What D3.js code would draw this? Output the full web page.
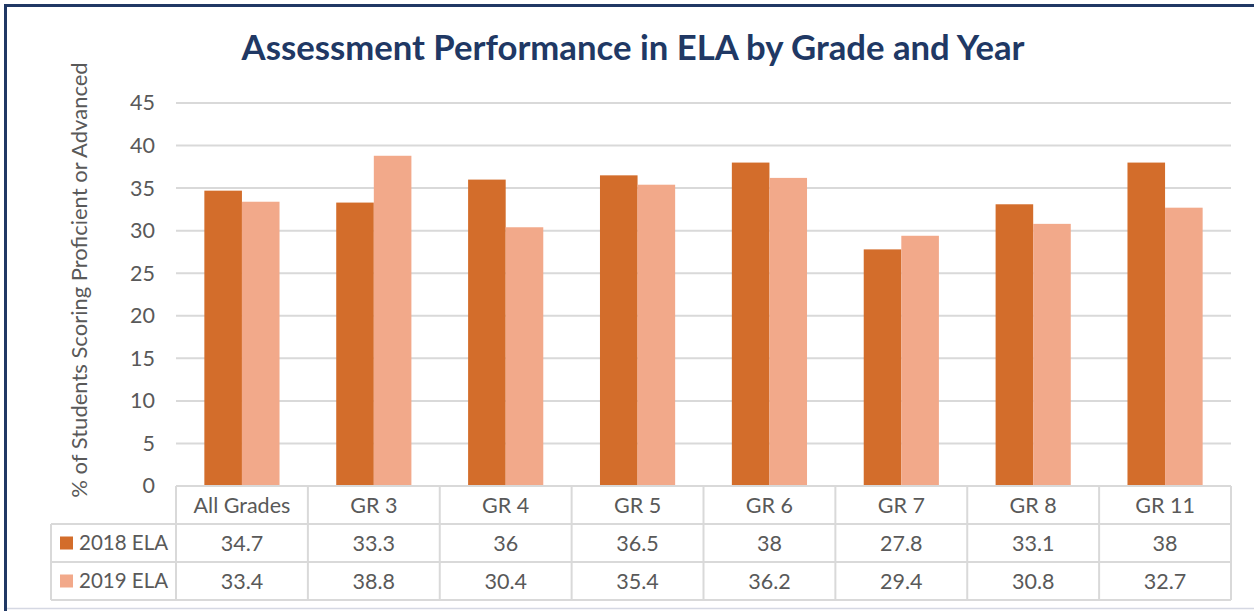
<!DOCTYPE html>
<html>
<head>
<meta charset="utf-8">
<script src="https://cdn.jsdelivr.net/npm/d3@7"></script>
<style>
  html, body { margin: 0; padding: 0; background: #fff; }
  svg { display: block; }
  text { font-family: Lato, "Open Sans", sans-serif; }
</style>
</head>
<body>
<svg id="chart" width="1254" height="611"></svg>
<script>
// Categories and series
const categories = ["All Grades", "GR 3", "GR 4", "GR 5", "GR 6", "GR 7", "GR 8", "GR 11"];
const seriesNames = ["2018 ELA", "2019 ELA"];
const values2018 = [34.7, 33.3, 36, 36.5, 38, 27.8, 33.1, 38];
const values2019 = [33.4, 38.8, 30.4, 35.4, 36.2, 29.4, 30.8, 32.7];
const yTicks = [0, 5, 10, 15, 20, 25, 30, 35, 40, 45];
const colors = ["#D36D2B", "#F2A98A"];

const series = [values2018, values2019];

const W = 1254, H = 611;
const plot = { left: 176, right: 1231, top: 103, bottom: 486 };
const rowH = 38;
const legendLeft = 51;
const labelSize = 21.5;

const svg = d3.select("#chart");

// Frame
svg.append("rect").attr("x", 0).attr("y", 0).attr("width", W).attr("height", H).attr("fill", "#fff");
svg.append("line").attr("x1", 4).attr("x2", W).attr("y1", 5.5).attr("y2", 5.5)
  .attr("stroke", "#203864").attr("stroke-width", 3);
svg.append("line").attr("x1", 5.5).attr("x2", 5.5).attr("y1", 4).attr("y2", H)
  .attr("stroke", "#203864").attr("stroke-width", 3);
svg.append("line").attr("x1", 7).attr("x2", W).attr("y1", 608.5).attr("y2", 608.5)
  .attr("stroke", "#D5D8E3").attr("stroke-width", 1.5);

// Title
svg.append("text")
  .attr("x", 633).attr("y", 60)
  .attr("text-anchor", "middle")
  .attr("font-size", 34.7).attr("font-weight", 700)
  .attr("fill", "#203864")
  .text("Assessment Performance in ELA by Grade and Year");

// Scales
const x = d3.scaleBand().domain(categories).range([plot.left, plot.right]);
const y = d3.scaleLinear().domain([0, 45]).range([plot.bottom, plot.top]);
const barW = x.bandwidth() * 0.285;
const sub = d3.scaleBand().domain(seriesNames).range([0, barW * 2]);

// Gridlines
svg.append("g").selectAll("line").data(yTicks.filter(t => t > 0)).join("line")
  .attr("x1", plot.left).attr("x2", plot.right)
  .attr("y1", d => y(d)).attr("y2", d => y(d))
  .attr("stroke", "#D9D9D9").attr("stroke-width", 2);

// Y axis tick labels
const yAxis = d3.axisLeft(y).tickValues(yTicks).tickSize(0).tickPadding(0);
const gy = svg.append("g").attr("transform", `translate(155,0)`).call(yAxis);
gy.select(".domain").remove();
gy.selectAll("text").attr("font-size", labelSize).attr("fill", "#595959")
  .attr("font-family", "Lato, 'Open Sans', sans-serif");

// Y axis title
svg.append("text")
  .attr("transform", `translate(87,280) rotate(-90)`)
  .attr("text-anchor", "middle")
  .attr("font-size", 22).attr("fill", "#595959")
  .text("% of Students Scoring Proficient or Advanced");

// Bars
const groups = svg.append("g").selectAll("g").data(categories).join("g")
  .attr("transform", d => `translate(${x(d) + (x.bandwidth() - barW * 2) / 2},0)`);
groups.selectAll("rect")
  .data((d, i) => seriesNames.map((s, k) => ({ s, v: series[k][i], k })))
  .join("rect")
  .attr("x", d => sub(d.s))
  .attr("width", sub.bandwidth())
  .attr("y", d => y(d.v))
  .attr("height", d => y(0) - y(d.v))
  .attr("fill", d => colors[d.k]);

// Data table
const tbl = svg.append("g");
const gridColor = "#D9D9D9";
const tTop = plot.bottom, r1 = tTop + rowH, r2 = r1 + rowH, r3 = r2 + rowH;

// horizontal lines
tbl.append("line").attr("x1", plot.left).attr("x2", plot.right).attr("y1", tTop).attr("y2", tTop)
  .attr("stroke", gridColor).attr("stroke-width", 2);
[r1, r2, r3].forEach(yy => tbl.append("line")
  .attr("x1", legendLeft).attr("x2", plot.right).attr("y1", yy).attr("y2", yy)
  .attr("stroke", gridColor).attr("stroke-width", 2));
// vertical lines
const vx = categories.map(c => x(c)).concat([plot.right]);
tbl.selectAll("line.v").data(vx).join("line").attr("class", "v")
  .attr("x1", d => d).attr("x2", d => d).attr("y1", tTop).attr("y2", r3)
  .attr("stroke", gridColor).attr("stroke-width", 2);
tbl.append("line").attr("x1", legendLeft).attr("x2", legendLeft).attr("y1", r1).attr("y2", r3)
  .attr("stroke", gridColor).attr("stroke-width", 2);

// header row: category names
tbl.selectAll("text.cat").data(categories).join("text").attr("class", "cat")
  .attr("x", d => x(d) + x.bandwidth() / 2).attr("y", tTop + rowH / 2)
  .attr("dy", "0.36em").attr("text-anchor", "middle")
  .attr("font-size", labelSize).attr("fill", "#595959")
  .text(d => d);

// value rows with legend keys
seriesNames.forEach((name, k) => {
  const rowY = r1 + k * rowH;
  tbl.append("rect").attr("x", 60).attr("y", rowY + rowH / 2 - 6.5)
    .attr("width", 13).attr("height", 13).attr("fill", colors[k]);
  tbl.append("text").attr("x", 79).attr("y", rowY + rowH / 2).attr("dy", "0.36em")
    .attr("font-size", 20.5).attr("fill", "#595959").text(name);
  tbl.selectAll(`text.val${k}`).data(series[k]).join("text").attr("class", `val${k}`)
    .attr("x", (d, i) => x(categories[i]) + x.bandwidth() / 2).attr("y", rowY + rowH / 2)
    .attr("dy", "0.36em").attr("text-anchor", "middle")
    .attr("font-size", labelSize).attr("fill", "#595959")
    .text(d => d);
});
</script>
</body>
</html>
